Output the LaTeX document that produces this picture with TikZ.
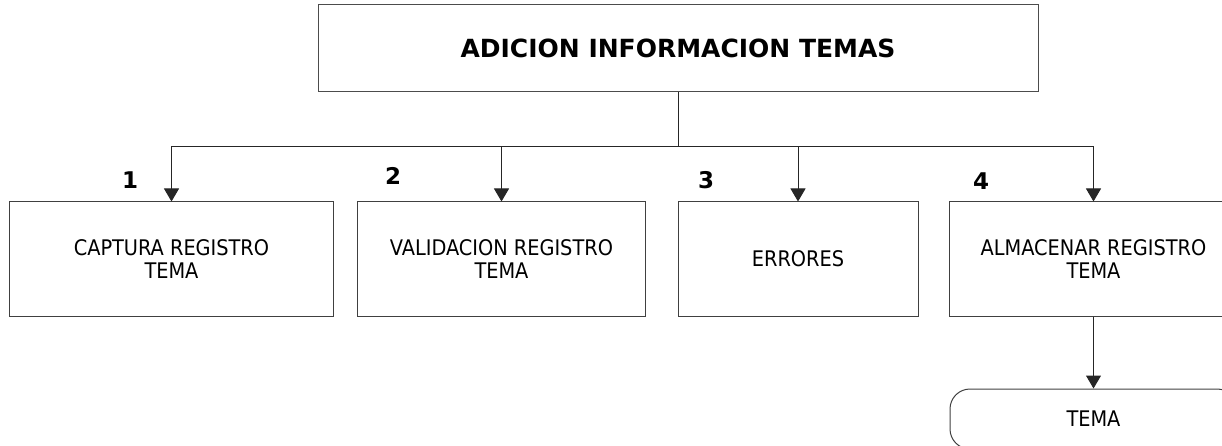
\documentclass[tikz,border=0pt]{standalone}
\usepackage{fontspec}
\setmainfont{DejaVu Sans}
\newfontfamily\condf{DejaVu Sans Condensed}
\usetikzlibrary{arrows.meta}
\begin{document}
\begin{tikzpicture}[x=1pt,y=-1pt,
  box/.style={draw=black!75,line width=1pt,inner sep=0pt,align=center,
    font=\condf\fontsize{21.5}{22.5}\selectfont},
  titlebox/.style={draw=black!70,line width=1pt,inner sep=0pt,
    font=\bfseries\fontsize{25}{28}\selectfont},
  numlab/.style={font=\bfseries\fontsize{23}{26}\selectfont,inner sep=0pt},
  arr/.style={draw=black!85,line width=1pt,-{Triangle[length=13pt,width=15pt]}},
  ln/.style={draw=black!85,line width=1pt}]
\useasboundingbox (0,0) rectangle (1222,446);
\begin{scope}
\clip (0,0) rectangle (1222,446);
\node[titlebox,minimum width=720pt,minimum height=87pt] (top) at (678,48.5) {ADICION INFORMACION TEMAS};
\node[box,minimum width=324pt,minimum height=114pt] (b1) at (171.5,259) {CAPTURA REGISTRO\\TEMA};
\node[box,minimum width=288pt,minimum height=114pt] (b2) at (501.5,259) {VALIDACION REGISTRO\\TEMA};
\node[box,minimum width=240pt,minimum height=114pt] (b3) at (798,259) {ERRORES};
\node[box,minimum width=288pt,minimum height=114pt] (b4) at (1093.5,259) {ALMACENAR REGISTRO\\TEMA};
\node[box,rounded corners=20pt,minimum width=287pt,minimum height=60pt] (tema) at (1093.5,419) {TEMA};
\node[numlab] (n1) at (130,180) {1};
\node[numlab] (n2) at (393,176) {2};
\node[numlab] (n3) at (706,180) {3};
\node[numlab] (n4) at (981,181) {4};
\coordinate (bus) at (678,147);
\draw[ln] (top.south) -- (bus);
\draw[arr] (bus) -| (b1.north);
\draw[arr] (bus) -| (b2.north);
\draw[arr] (bus) -| (b3.north);
\draw[arr] (bus) -| (b4.north);
\draw[arr] (b4.south) -- (tema.north);
\end{scope}
\end{tikzpicture}
\end{document}
